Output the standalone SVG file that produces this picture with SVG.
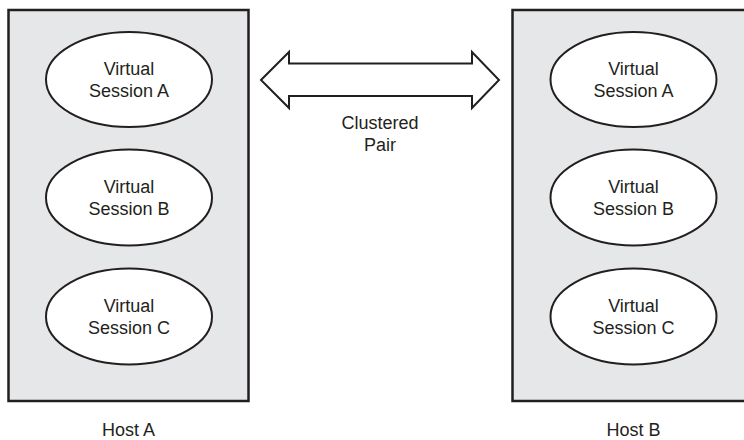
<svg xmlns="http://www.w3.org/2000/svg" width="744" height="440" viewBox="0 0 744 440">
  <style>
    .host { fill: #e6e7e8; stroke: #231f20; stroke-width: 2.5; }
    .vs { fill: #ffffff; stroke: #231f20; stroke-width: 2; }
    .arrow { fill: #ffffff; stroke: #231f20; stroke-width: 2; stroke-linejoin: miter; }
    text { font-family: "Liberation Sans", Arial, sans-serif; font-size: 18px; fill: #231f20; text-anchor: middle; }
  </style>
  <rect width="744" height="440" fill="#ffffff"/>
  <g id="hostA">
    <rect class="host" x="8.5" y="10" width="240" height="391"/>
    <text x="128.5" y="436">Host A</text>
  </g>
  <g id="hostB">
    <rect class="host" x="512.5" y="10" width="240" height="391"/>
    <text x="633.5" y="436">Host B</text>
  </g>
  <g id="a-vsA">
    <ellipse class="vs" cx="129" cy="79.5" rx="83" ry="47.5"/>
    <text x="129" y="75">Virtual</text>
    <text x="129" y="97">Session A</text>
  </g>
  <g id="a-vsB">
    <ellipse class="vs" cx="129" cy="197.5" rx="83" ry="48"/>
    <text x="129" y="193">Virtual</text>
    <text x="129" y="215">Session B</text>
  </g>
  <g id="a-vsC">
    <ellipse class="vs" cx="129" cy="316.5" rx="83" ry="48"/>
    <text x="129" y="312">Virtual</text>
    <text x="129" y="334">Session C</text>
  </g>
  <g id="b-vsA">
    <ellipse class="vs" cx="633.5" cy="79.5" rx="83" ry="47.5"/>
    <text x="633.5" y="75">Virtual</text>
    <text x="633.5" y="97">Session A</text>
  </g>
  <g id="b-vsB">
    <ellipse class="vs" cx="633.5" cy="197.5" rx="83" ry="48"/>
    <text x="633.5" y="193">Virtual</text>
    <text x="633.5" y="215">Session B</text>
  </g>
  <g id="b-vsC">
    <ellipse class="vs" cx="633.5" cy="316.5" rx="83" ry="48"/>
    <text x="633.5" y="312">Virtual</text>
    <text x="633.5" y="334">Session C</text>
  </g>
  <g id="connectors">
    <path class="arrow" d="M261,80 L289,52 L289,63.5 L472,63.5 L472,52 L499,80 L472,108 L472,96 L289,96 L289,108 Z"/>
    <text x="380" y="129">Clustered</text>
    <text x="380" y="151">Pair</text>
  </g>
</svg>
